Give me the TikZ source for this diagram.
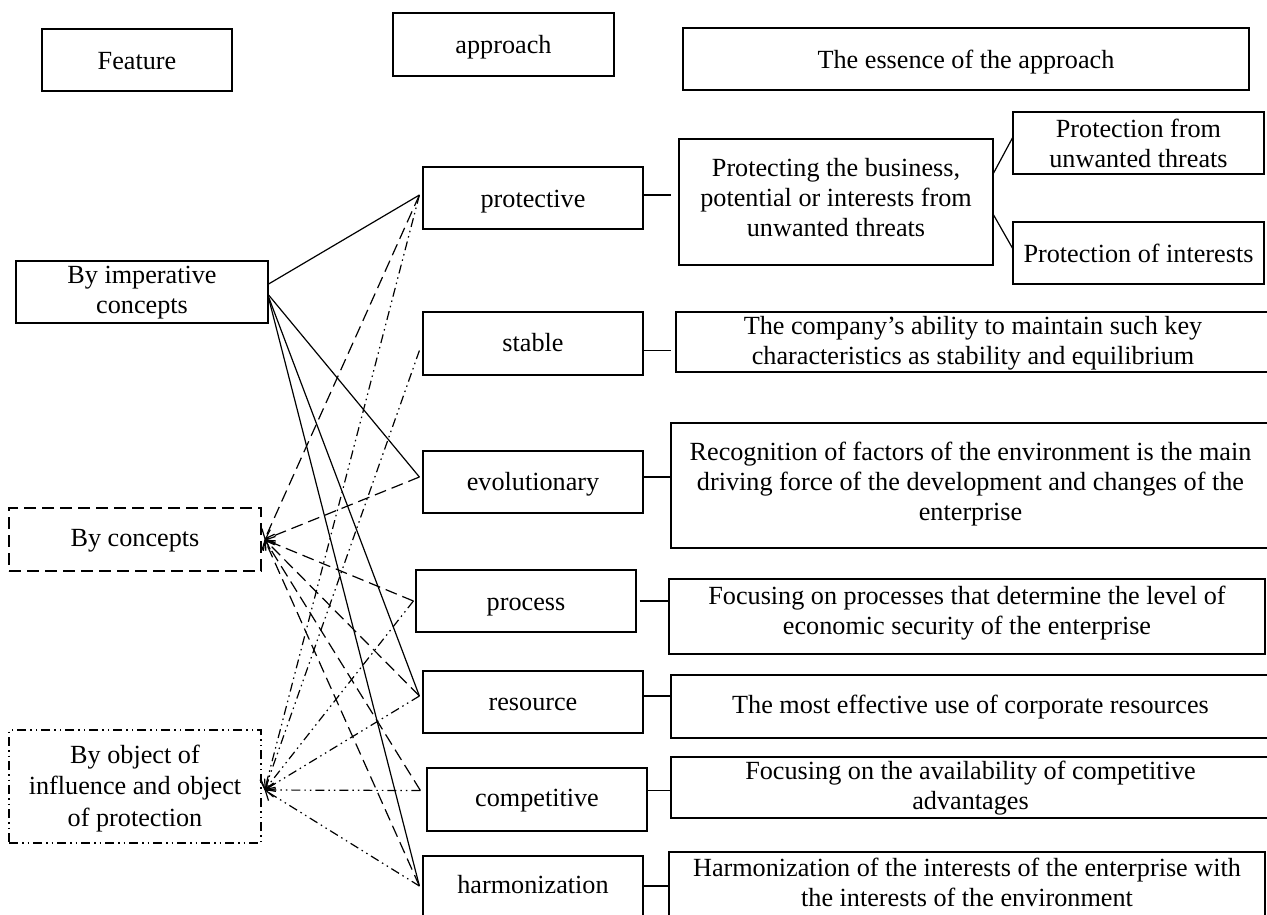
\documentclass[tikz,border=0pt]{standalone}
\usepackage{fontspec}
\setmainfont{Liberation Serif}
\usetikzlibrary{arrows.meta,calc}
\newcommand{\diafs}{\fontsize{26.2}{30}\selectfont}
\begin{document}
\begin{tikzpicture}[x=1pt,y=-1pt,
 bx/.style={draw, line width=1.2pt, inner sep=0pt},
 txt/.style={font=\diafs, align=center, inner sep=0pt},
 ln/.style={line width=1.2pt},
 dsh/.style={line width=1.2pt, dash pattern=on 12pt off 6pt},
 ddot/.style={line width=1.2pt, dash pattern=on 9pt off 4pt on 1.5pt off 4pt on 1.5pt off 4pt},
 tip/.style={-{Straight Barb[length=8pt,width=14pt,line width=1.2pt]}}
]
\useasboundingbox (0,0) rectangle (1267,914);

% header
\node[bx, minimum width=190, minimum height=62,
  label={[txt,name=featT,yshift=-1pt]center:Feature}] (feat) at (137,60) {};
\node[bx, minimum width=221, minimum height=63,
  label={[txt,name=apprT,yshift=-2.7pt]center:approach}] (appr) at (503.5,44.5) {};
\node[bx, minimum width=566, minimum height=62,
  label={[txt,name=essT,yshift=-3.5pt]center:The essence of the approach}] (ess) at (966,59) {};

% features
\node[bx, minimum width=252, minimum height=62,
  label={[txt,name=impT,yshift=-1pt]center:By imperative\\concepts}] (imp) at (142,292) {};
\node[bx, dsh, minimum width=252, minimum height=63,
  label={[txt,name=concT,yshift=-1.4pt]center:By concepts}] (conc) at (135,539.5) {};
\node[bx, ddot, minimum width=252, minimum height=113,
  label={[txt,name=objT,yshift=-1.6pt,font=\fontsize{26.2}{31.5}\selectfont]center:By object of\\influence and object\\of protection}] (obj) at (135,786.5) {};

% approaches
\node[bx, minimum width=220, minimum height=62,
  label={[txt,name=protT,yshift=-3.2pt]center:protective}] (prot) at (533,198) {};
\node[bx, minimum width=220, minimum height=63,
  label={[txt,name=stabT,yshift=0.8pt]center:stable}] (stab) at (533,343.5) {};
\node[bx, minimum width=220, minimum height=62,
  label={[txt,name=evolT,yshift=-1.9pt]center:evolutionary}] (evol) at (533,482) {};
\node[bx, minimum width=220, minimum height=62,
  label={[txt,name=procT,yshift=-5.7pt]center:process}] (proc) at (526,601) {};
\node[bx, minimum width=220, minimum height=62,
  label={[txt,name=resT,yshift=-2pt]center:resource}] (res) at (533,702) {};
\node[bx, minimum width=220, minimum height=63,
  label={[txt,name=compT,yshift=-1.1pt]center:competitive}] (comp) at (537,799.5) {};
\node[bx, minimum width=220, minimum height=62,
  label={[txt,name=harmT,yshift=2.6pt]center:harmonization}] (harm) at (533,887) {};

% essences
\node[bx, minimum width=314, minimum height=126,
  label={[txt,name=protbigT,yshift=4pt]center:{Protecting the business,\\potential or interests from\\unwanted threats}}] (protbig) at (836,202) {};
\node[bx, minimum width=251, minimum height=62,
  label={[txt,name=pfromT]center:Protection from\\unwanted threats}] (pfrom) at (1138.5,143) {};
\node[bx, minimum width=251, minimum height=62,
  label={[txt,name=pintT]center:Protection of interests}] (pint) at (1138.5,253) {};
\node[bx, minimum width=594, minimum height=60,
  label={[txt,name=stabdT,yshift=-1pt]center:{The company's ability to maintain such key\\characteristics as stability and equilibrium}}] (stabd) at (973,342) {};
\node[bx, minimum width=599, minimum height=125,
  label={[txt,name=evoldT,yshift=1pt]center:Recognition of factors of the environment is the main\\driving force of the development and changes of the\\enterprise}] (evold) at (970.5,485.5) {};
\node[bx, minimum width=596, minimum height=75,
  label={[txt,name=procdT,yshift=3pt]center:Focusing on processes that determine the level of\\economic security of the enterprise}] (procd) at (967,616.5) {};
\node[bx, minimum width=599, minimum height=63,
  label={[txt,name=resdT,yshift=-1pt]center:The most effective use of corporate resources}] (resd) at (970.5,706.5) {};
\node[bx, minimum width=599, minimum height=61,
  label={[txt,name=compdT,yshift=-1pt]center:Focusing on the availability of competitive\\advantages}] (compd) at (970.5,787.5) {};
\node[bx, minimum width=596, minimum height=64,
  label={[txt,name=harmdT,yshift=2pt]center:Harmonization of the interests of the enterprise with\\the interests of the environment}] (harmd) at (967,884) {};

% attachment points
\coordinate (protIn) at ([xshift=-3pt,yshift=3pt]prot.west);
\coordinate (stabIn) at ([xshift=-3pt,yshift=-7pt]stab.west);
\coordinate (evolIn) at ([xshift=-3pt,yshift=5pt]evol.west);
\coordinate (procIn) at ([xshift=-2pt]proc.west);
\coordinate (resIn) at ([xshift=-3pt,yshift=6pt]res.west);
\coordinate (compIn) at ([xshift=-6pt,yshift=9pt]comp.west);
\coordinate (harmIn) at ([xshift=-3pt,yshift=1pt]harm.west);
\coordinate (concTip) at ([xshift=3pt]conc.east);
\coordinate (objTip) at ([xshift=3pt,yshift=-3.5pt]obj.east);

% imperative (solid)
\draw[ln] ([yshift=8pt]imp.east) -- (protIn);
\draw[ln] ([yshift=-3pt]imp.east) -- (evolIn);
\draw[ln] ([yshift=-5pt]imp.east) -- (resIn);
\draw[ln] ([yshift=-6pt]imp.east) -- (harmIn);

% by concepts (dashed)
\foreach \s in {protIn,evolIn,procIn,resIn,compIn,harmIn}
  \draw[dsh,tip] (\s) -- (concTip);

% by object (dash-dot-dot)
\foreach \s in {protIn,stabIn,procIn,resIn,compIn,harmIn}
  \draw[ddot,tip] (\s) -- (objTip);

% approach to essence
\draw[ln] (protIn -| prot.east) -- ($(protIn -| protbig.west)+(-7,0)$);
\draw[ln] (stabIn -| stab.east) -- ($(stabIn -| stabd.west)+(-4,0)$);
\draw[ln] (evolIn -| evol.east) -- (evolIn -| evold.west);
\draw[ln] ($(procIn -| proc.east)+(3,0)$) -- (procIn -| procd.west);
\draw[ln] (resIn -| res.east) -- (resIn -| resd.west);
\draw[ln] (compIn -| comp.east) -- (compIn -| compd.west);
\draw[ln] (harmIn -| harm.east) -- (harmIn -| harmd.west);

\draw[ln] ([yshift=29pt]protbig.east) -- ([yshift=5pt]pfrom.west);
\draw[ln] ([yshift=-13pt]protbig.east) -- ([yshift=5pt]pint.west);
\end{tikzpicture}
\end{document}
